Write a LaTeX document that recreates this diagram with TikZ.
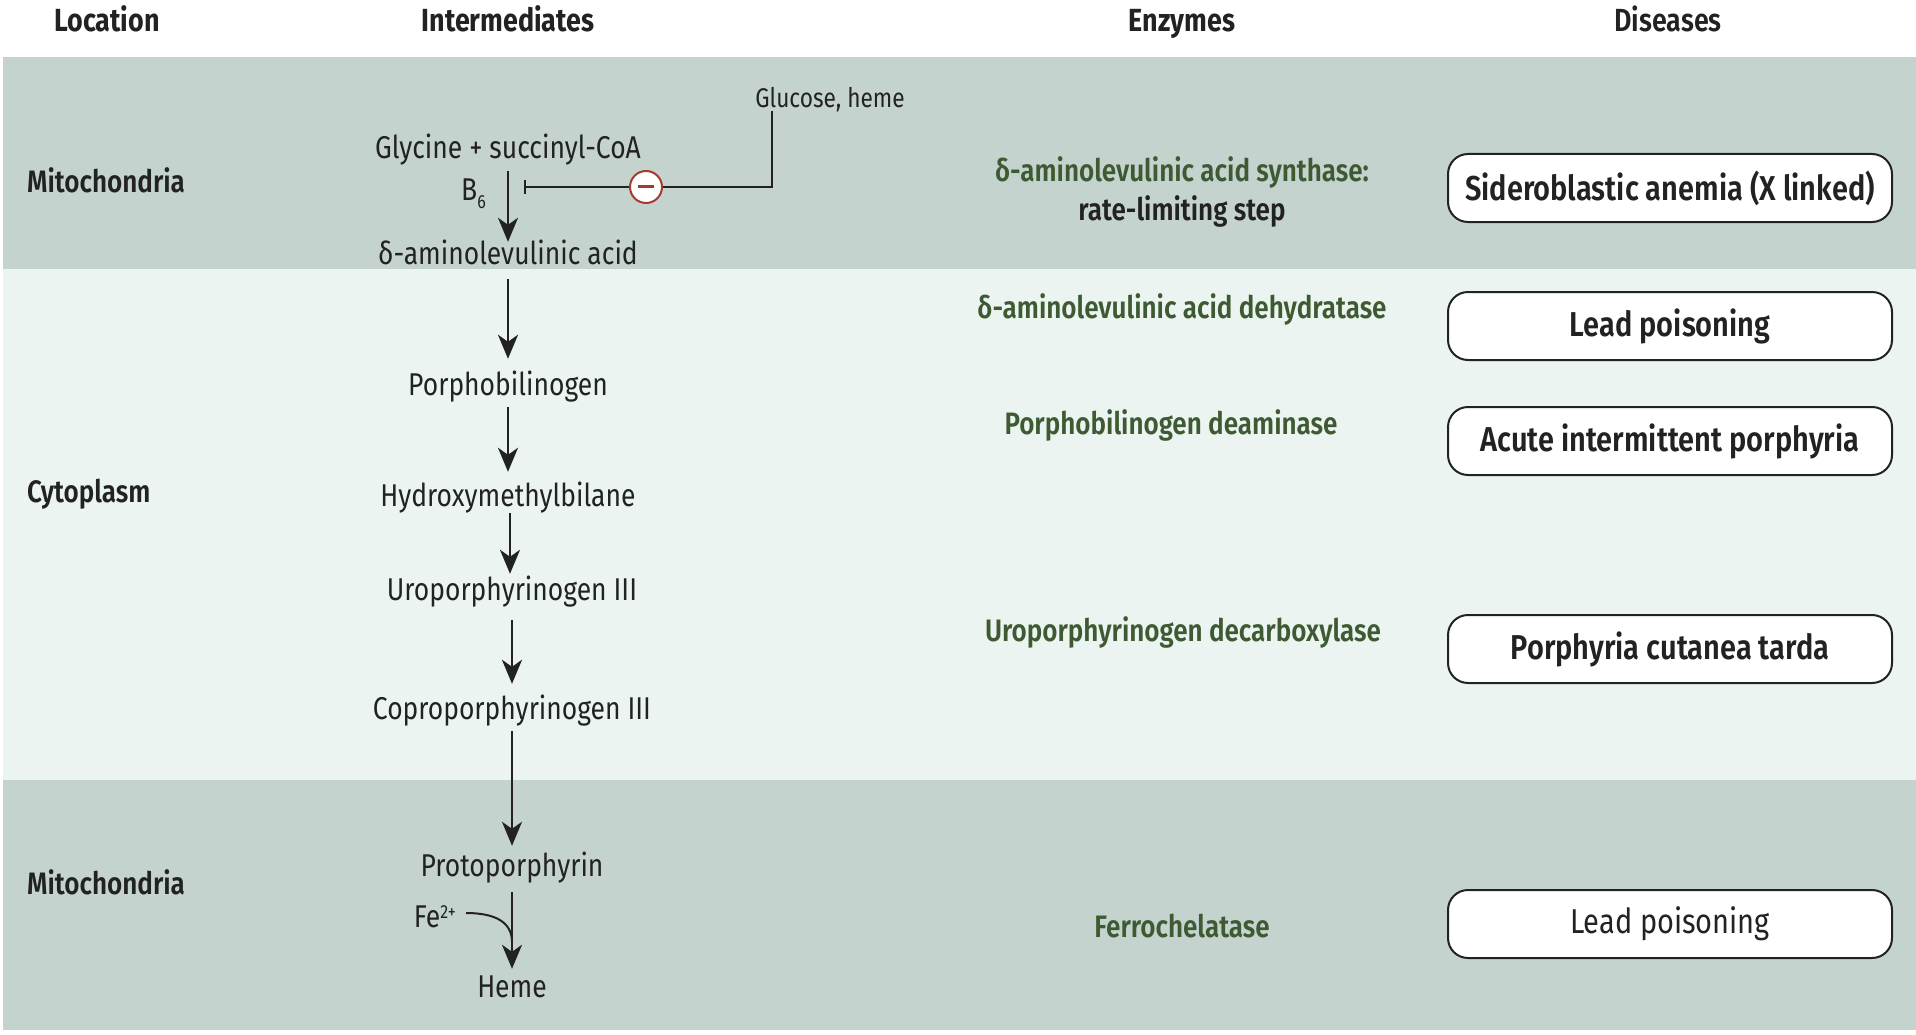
\documentclass[tikz,border=0pt]{standalone}
\usepackage{fontspec}
\setmainfont{Fira Sans}[FakeStretch=0.84]
\newfontfamily\semib{Fira Sans SemiBold}[FakeStretch=0.84]
\usetikzlibrary{arrows.meta}
\definecolor{banddark}{HTML}{C5D3CF}
\definecolor{bandlight}{HTML}{EBF4F1}
\definecolor{enzgreen}{HTML}{3E5A32}
\definecolor{inhred}{HTML}{A33B2E}
\definecolor{ink}{HTML}{222222}
\tikzset{
  inter/.style={inner sep=0pt, text height=26pt, text depth=3pt, font=\fontsize{31.5}{34}\selectfont, text=ink},
  loc/.style={anchor=west, inner sep=0pt, font=\semib\fontsize{31}{34}\selectfont, text=ink},
  hdr/.style={inner sep=0pt, text height=24pt, text depth=8pt, font=\bfseries\fontsize{32}{34}\selectfont, text=ink},
  enz/.style={inner sep=0pt, align=center, font=\semib\fontsize{31}{38}\selectfont, text=enzgreen},
  dis/.style={draw=ink, line width=2pt, fill=white, rounded corners=20pt, minimum width=444pt, minimum height=68pt, inner sep=0pt, font=\semib\fontsize{34.5}{38}\selectfont, text=ink},
  arr/.style={draw=ink, line width=2.5pt, -{Stealth[length=24pt,width=20pt,inset=7pt]}},
  thin/.style={draw=ink, line width=2pt},
}
\begin{document}
\begin{tikzpicture}[x=1pt,y=-1pt]
\useasboundingbox (0,0) rectangle (1916,1035);
\fill[white] (0,0) rectangle (1916,1035);
\fill[banddark] (3,57) rectangle (1916,269);
\fill[bandlight] (3,269) rectangle (1916,780);
\fill[banddark] (3,780) rectangle (1916,1030);

% headers
\node[hdr] (hloc) at (107,24) {Location};
\node[hdr] (hint) at (508,24) {Intermediates};
\node[hdr] (henz) at (1182,24) {Enzymes};
\node[hdr, font=\semib\fontsize{32}{34}\selectfont] (hdis) at (1668,24) {Diseases};

% locations
\node[loc] (l1) at (27,180) {Mitochondria};
\node[loc] (l2) at (27,494) {Cytoplasm};
\node[loc] (l3) at (27,882) {Mitochondria};

% intermediates
\node[inter, font=\fontsize{27}{30}\selectfont, text height=19pt, text depth=6pt] (glu) at (830,101) {Glucose, heme};
\node[inter] (gly) at (508,147) {Glycine + succinyl-CoA};
\node[inter, anchor=east, text height=22pt, text depth=7pt] (b6) at (486,193) {B\raisebox{-8pt}{\fontsize{19}{20}\selectfont 6}};
\node[inter] (ala) at (508,253) {δ-aminolevulinic acid};
\node[inter] (pbg) at (508,384) {Porphobilinogen};
\node[inter] (hmb) at (508,495) {Hydroxymethylbilane};
\node[inter] (uro) at (512,589) {Uroporphyrinogen III};
\node[inter] (copro) at (512,708) {Coproporphyrinogen III};
\node[inter] (proto) at (512,865) {Protoporphyrin};
\node[inter, anchor=east, text height=22pt, text depth=7pt] (fe) at (456,920) {Fe\raisebox{9pt}{\fontsize{19}{20}\selectfont 2+}};
\node[inter] (heme) at (512,986) {Heme};

% arrows
\draw[arr, shorten <=9.5pt, shorten >=-3.5pt] (gly) -- (ala);
\draw[arr, shorten <=11.5pt, shorten >=10.5pt] (ala) -- (pbg);
\draw[arr, shorten <=8.5pt, shorten >=8.5pt] (pbg) -- (hmb);
\draw[arr, shorten <=3.5pt, shorten >=0.5pt] ([xshift=2pt]hmb.south) -- ([xshift=-2pt]uro.north);
\draw[arr, shorten <=16.5pt, shorten >=9.5pt] (uro) -- (copro);
\draw[arr, shorten <=8.5pt, shorten >=4.5pt] (copro) -- (proto);
\draw[arr, shorten <=12.5pt, shorten >=2.5pt] (proto) -- (heme);

% Fe2+ joining
\coordinate (fejoin) at (512,942);
\draw[thin] ([xshift=10pt]fe.east |- 0,913) .. controls (495,913) and (512,922) .. (fejoin);

% inhibition
\node[circle, draw=inhred, line width=2pt, fill=white, minimum size=32pt, inner sep=0pt] (minus) at (646,187) {};
\draw[inhred, line width=3pt] ([xshift=-8pt]minus.center) -- ([xshift=8pt]minus.center);
\coordinate (corner) at (772,187);
\coordinate (bar) at (525,187);
\draw[thin] ([yshift=3pt]glu.south -| corner) -- (corner) -- (minus.east);
\draw[thin] (minus.west) -- (bar);
\draw[thin] ([yshift=-7pt]bar) -- ([yshift=7pt]bar);

% enzymes
\node[enz] (e1) at (1182,172) {δ-aminolevulinic acid synthase:};
\node[enz, text=ink] (e1b) at (1182,211) {rate-limiting step};
\node[enz] (e2) at (1182,309) {δ-aminolevulinic acid dehydratase};
\node[enz] (e3) at (1171,425) {Porphobilinogen deaminase};
\node[enz] (e4) at (1183,632) {Uroporphyrinogen decarboxylase};
\node[enz] (e5) at (1182,926) {Ferrochelatase};

% diseases
\node[dis] (d1) at (1670,188) {Sideroblastic anemia (X linked)};
\node[dis] (d2) at (1670,326) {Lead poisoning};
\node[dis] (d3) at (1670,441) {Acute intermittent porphyria};
\node[dis] (d4) at (1670,649) {Porphyria cutanea tarda};
\node[dis, font=\fontsize{34.5}{38}\selectfont] (d5) at (1670,924) {Lead poisoning};
\end{tikzpicture}
\end{document}
